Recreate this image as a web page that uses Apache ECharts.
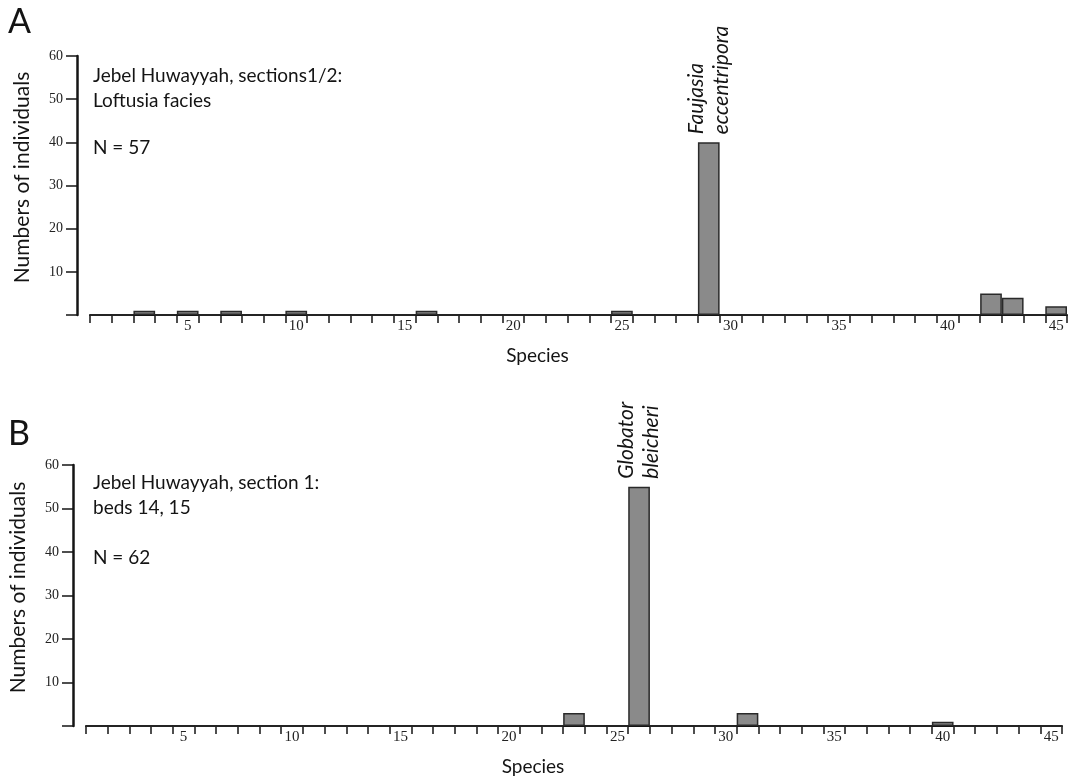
<!DOCTYPE html>
<html>
<head>
<meta charset="utf-8">
<script src="https://cdn.jsdelivr.net/npm/echarts@6/dist/echarts.min.js"></script>
<style>
html,body{margin:0;padding:0;background:#fff;}
#chart{width:1073px;height:780px;}
</style>
</head>
<body>
<div id="chart"></div>
<script>
// Species numbers (categories)
const species = ['1','2','3','4','5','6','7','8','9','10','11','12','13','14','15',
  '16','17','18','19','20','21','22','23','24','25','26','27','28','29','30',
  '31','32','33','34','35','36','37','38','39','40','41','42','43','44','45'];

// Panel A: Jebel Huwayyah, sections 1/2, Loftusia facies (N = 57)
const countsA = [0,0,1,0,1,0,1,0,0,1, 0,0,0,0,0,1,0,0,0,0, 0,0,0,0,1,0,0,0,40,0, 0,0,0,0,0,0,0,0,0,0, 0,5,4,0,2];
// Panel B: Jebel Huwayyah, section 1, beds 14, 15 (N = 62)
const countsB = [0,0,0,0,0,0,0,0,0,0, 0,0,0,0,0,0,0,0,0,0, 0,0,3,0,0,55,0,0,0,0, 3,0,0,0,0,0,0,0,0,1, 0,0,0,0,0];

// Named species annotations
const noteA = {species: '29', lines: ['Faujasia', 'eccentripora']};
const noteB = {species: '26', lines: ['Globator', 'bleicheri']};

// Panel texts
const panelA = {letter: 'A', info: 'Jebel Huwayyah, sections1/2:\nLoftusia facies', n: 'N = 57'};
const panelB = {letter: 'B', info: 'Jebel Huwayyah, section 1:\nbeds 14, 15', n: 'N = 62'};

const SANS = 'Lato';
const SERIF = 'Liberation Serif';
const INK = '#141414';

function buildData(counts, note) {
  return counts.map((v, i) => {
    if (species[i] === note.species) {
      return {
        value: v,
        label: {
          show: true, position: 'top', rotate: 90, distance: 8,
          align: 'left', verticalAlign: 'middle',
          formatter: note.lines.join('\n'),
          fontFamily: SANS, fontStyle: 'italic', fontSize: 21, lineHeight: 25, color: INK
        }
      };
    }
    return v;
  });
}

function xAxisFor(gi) {
  return {
    type: 'category', gridIndex: gi, data: species, boundaryGap: true,
    axisLine: {show: true, lineStyle: {color: INK, width: 2}},
    axisTick: {show: true, interval: 0, length: 8, alignWithLabel: false, lineStyle: {color: INK, width: 1.5}},
    axisLabel: {interval: (i) => (i + 1) % 5 === 0, fontFamily: SERIF, fontSize: 15, color: '#222', margin: 4},
    splitLine: {show: false},
    name: 'Species', nameLocation: 'middle', nameGap: 31,
    nameTextStyle: {fontFamily: SANS, fontSize: 19, color: INK, padding: [0, 82, 0, 0]}
  };
}

function yAxisFor(gi) {
  return {
    type: 'value', gridIndex: gi, min: 0, max: 60, interval: 10, offset: 13,
    axisLine: {show: true, lineStyle: {color: INK, width: 2.5}},
    axisTick: {show: true, length: 11, lineStyle: {color: INK, width: 1.5}},
    axisLabel: {formatter: (v) => v === 0 ? '' : String(v), fontFamily: SERIF, fontSize: 14, color: '#222', margin: 14},
    splitLine: {show: false},
    name: 'Numbers of individuals', nameLocation: 'middle', nameGap: 44,
    nameTextStyle: {fontFamily: SANS, fontSize: 21, color: INK, padding: [0, 0, 0, 16]}
  };
}

const barStyle = {color: '#8a8a8a', borderColor: '#2a2a2a', borderWidth: 1.5};

const option = {
  backgroundColor: '#ffffff',
  animation: false,
  title: [
    {text: panelA.letter, left: 3, top: 0, textStyle: {fontFamily: SANS, fontSize: 34, fontWeight: 'normal', color: INK}},
    {text: panelA.info, left: 88, top: 58, textStyle: {fontFamily: SANS, fontSize: 19, lineHeight: 25, fontWeight: 'normal', color: INK}},
    {text: panelA.n, left: 88, top: 130, textStyle: {fontFamily: SANS, fontSize: 19, lineHeight: 25, fontWeight: 'normal', color: INK}},
    {text: panelB.letter, left: 3, top: 412, textStyle: {fontFamily: SANS, fontSize: 34, fontWeight: 'normal', color: INK}},
    {text: panelB.info, left: 88, top: 465, textStyle: {fontFamily: SANS, fontSize: 19, lineHeight: 25, fontWeight: 'normal', color: INK}},
    {text: panelB.n, left: 88, top: 540, textStyle: {fontFamily: SANS, fontSize: 19, lineHeight: 25, fontWeight: 'normal', color: INK}}
  ],
  grid: [
    {left: 90, right: 6, top: 56, height: 259, containLabel: false},
    {left: 85, right: 11, top: 465, height: 261, containLabel: false}
  ],
  xAxis: [xAxisFor(0), xAxisFor(1)],
  yAxis: [yAxisFor(0), yAxisFor(1)],
  series: [
    {type: 'bar', xAxisIndex: 0, yAxisIndex: 0, data: buildData(countsA, noteA), barCategoryGap: '0%', itemStyle: barStyle},
    {type: 'bar', xAxisIndex: 1, yAxisIndex: 1, data: buildData(countsB, noteB), barCategoryGap: '0%', itemStyle: barStyle}
  ]
};

const chart = echarts.init(document.getElementById('chart'), null, {renderer: 'canvas'});
chart.setOption(option);
</script>
</body>
</html>
